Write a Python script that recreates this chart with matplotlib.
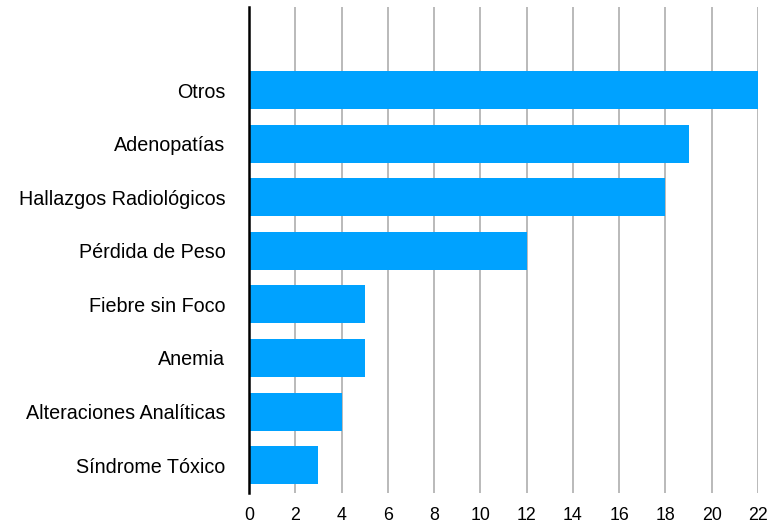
import matplotlib.pyplot as plt

categorias = ['Síndrome Tóxico', 'Alteraciones Analíticas', 'Anemia', 'Fiebre sin Foco',
              'Pérdida de Peso', 'Hallazgos Radiológicos', 'Adenopatías', 'Otros']
valores = [3, 4, 5, 5, 12, 18, 19, 22]
xticks = list(range(0, 23, 2))

plt.rcParams['font.family'] = ['Liberation Sans', 'DejaVu Sans']

fig = plt.figure(figsize=(7.79, 5.27), dpi=100)
ax = fig.add_axes([0.3196, 0.0645, 0.6534, 0.9222])

ax.barh(range(len(categorias)), valores, height=0.71, color='#00a2ff', zorder=3)

ax.set_xlim(0, 22)
ax.set_ylim(-0.52, 8.55)
ax.set_xticks(xticks)
ax.set_yticks(range(len(categorias)))
ax.set_yticklabels(categorias)
ax.tick_params(axis='both', length=0)
ax.tick_params(axis='y', pad=17, labelsize=14.2)
ax.tick_params(axis='x', pad=10, labelsize=12.8)

ax.grid(axis='x', color='#b4b4b4', linewidth=1.3, zorder=0)
for s in ['top', 'right', 'bottom']:
    ax.spines[s].set_visible(False)
ax.spines['left'].set_linewidth(1.8)
ax.spines['left'].set_color('black')
ax.spines['left'].set_zorder(4)

fig.savefig('out.png', dpi=100)
